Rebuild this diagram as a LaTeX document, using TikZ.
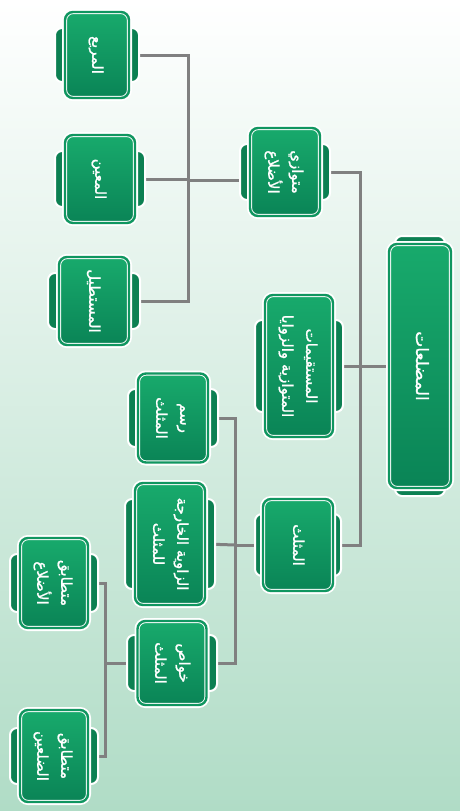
\documentclass[tikz,border=0pt]{standalone}
\usepackage{fontspec}
\usepackage{graphicx}
\newfontfamily\arabicfont[Script=Arabic,FakeBold=1.2]{DejaVu Sans}
\TeXXeTstate=1
\usetikzlibrary{calc}

\definecolor{boxlight}{RGB}{24,170,108}
\definecolor{boxdark}{RGB}{10,132,86}
\definecolor{boxmid}{RGB}{16,150,96}
\definecolor{tabgreen}{RGB}{12,128,82}
\definecolor{linkgray}{RGB}{128,128,128}
\definecolor{bggreen}{RGB}{176,220,198}

\newcommand{\artxt}[1]{\beginR#1\endR}
\newcommand{\vlabel}[1]{\rotatebox{-90}{\begin{tabular}{@{}c@{}}#1\end{tabular}}}

\pgfdeclarelayer{bg}
\pgfdeclarelayer{lines}
\pgfdeclarelayer{tabs}
\pgfsetlayers{bg,lines,tabs,main}

\begin{document}
\begin{tikzpicture}[x=1pt,y=-1pt]
    \tikzstyle{card}=[rectangle,rounded corners=8pt,top color=boxlight,bottom color=boxdark,
      draw=white,line width=0.9pt,double=boxmid,double distance=2.4pt,
      preaction={draw=white,line width=6pt},text=white,inner sep=2pt,
      font=\arabicfont\fontsize{15}{24}\selectfont,
      minimum width=68pt,minimum height=90pt]
    \tikzstyle{wingfill}=[fill=tabgreen,draw=white,line width=2pt,rounded corners=7pt]
    \tikzstyle{link}=[draw=linkgray,line width=3pt]
    \tikzset{wings/.style 2 args={append after command={\pgfextra{%
      \begin{pgfonlayer}{tabs}
        \path[wingfill] ($(\tikzlastnode.center)+(-#1,-#2)$) rectangle ($(\tikzlastnode.center)+(#1,#2)$);
      \end{pgfonlayer}}}}}
    \begin{pgfonlayer}{bg}
      \shade[top color=white,bottom color=bggreen] (0,0) rectangle (460,811);
    \end{pgfonlayer}
    \useasboundingbox (0,0) rectangle (460,811);
    % root and first level
    \node[card,minimum width=62pt,minimum height=244pt,wings={25}{130},
      font=\arabicfont\fontsize{17}{20}\selectfont] (root) at (420,366) {\vlabel{\artxt{المضلعات}}};
    \node[card,minimum width=70pt,minimum height=88pt,wings={45}{28}] (par) at (285,172) {\vlabel{\artxt{متوازي}\\ \artxt{الأضلاع}}};
    \node[card,minimum height=142pt,wings={44}{46}] (lines) at (299,366) {\vlabel{\artxt{المستقيمات}\\ \artxt{المتوازية والزوايا}}};
    \node[card,minimum width=70pt,minimum height=92pt,wings={43}{31}] (tri) at (298,545) {\vlabel{\artxt{المثلث}}};
    % parallelograms
    \node[card,minimum width=64pt,minimum height=86pt,wings={42}{27}] (sq) at (97,55) {\vlabel{\artxt{المربع}}};
    \node[card,minimum width=70pt,minimum height=88pt,wings={45}{28}] (rh) at (100,179) {\vlabel{\artxt{المعين}}};
    \node[card,minimum width=70pt,minimum height=88pt,wings={46}{28}] (rect) at (94,301) {\vlabel{\artxt{المستطيل}}};
    % triangle
    \node[card,minimum width=70pt,minimum height=89pt,wings={45}{29}] (draw) at (173,418) {\vlabel{\artxt{رسم}\\ \artxt{المثلث}}};
    \node[card,minimum width=70pt,minimum height=122pt,wings={45}{45}] (ext) at (170,544) {\vlabel{\artxt{الزاوية الخارجة}\\ \artxt{للمثلث}}};
    \node[card,minimum width=69pt,minimum height=84pt,wings={45}{28}] (prop) at (172,663) {\vlabel{\artxt{خواص}\\ \artxt{المثلث}}};
    \node[card,minimum height=90pt,wings={44}{29}] (equi) at (54,583) {\vlabel{\artxt{متطابق}\\ \artxt{الأضلاع}}};
    \node[card,minimum height=92pt,wings={44}{28}] (isos) at (54,756) {\vlabel{\artxt{متطابق}\\ \artxt{الضلعين}}};
    % connectors
    \coordinate (j0) at (360,366);
    \coordinate (j1) at (188,180);
    \coordinate (j2) at (235,545);
    \coordinate (j3) at (105,663);
    \begin{pgfonlayer}{lines}
      \draw[link] (root.west) -- (j0);
      \draw[link] (par.east) -| (j0) |- (tri.east);
      \draw[link] (lines.east) -- (j0);
      \draw[link] (par.west |- j1) -- (j1);
      \draw[link] (sq.east) -| (j1) |- (rect.east);
      \draw[link] (rh.east) -- (rh.east -| j1);
      \draw[link] (tri.west) -- (j2);
      \draw[link] (draw.east) -| (j2) |- (prop.east);
      \draw[link] (ext.east) -- (j2);
      \draw[link] (prop.west) -- (j3);
      \draw[link] (equi.east) -| (j3) |- (isos.east);
    \end{pgfonlayer}
\end{tikzpicture}
\end{document}
